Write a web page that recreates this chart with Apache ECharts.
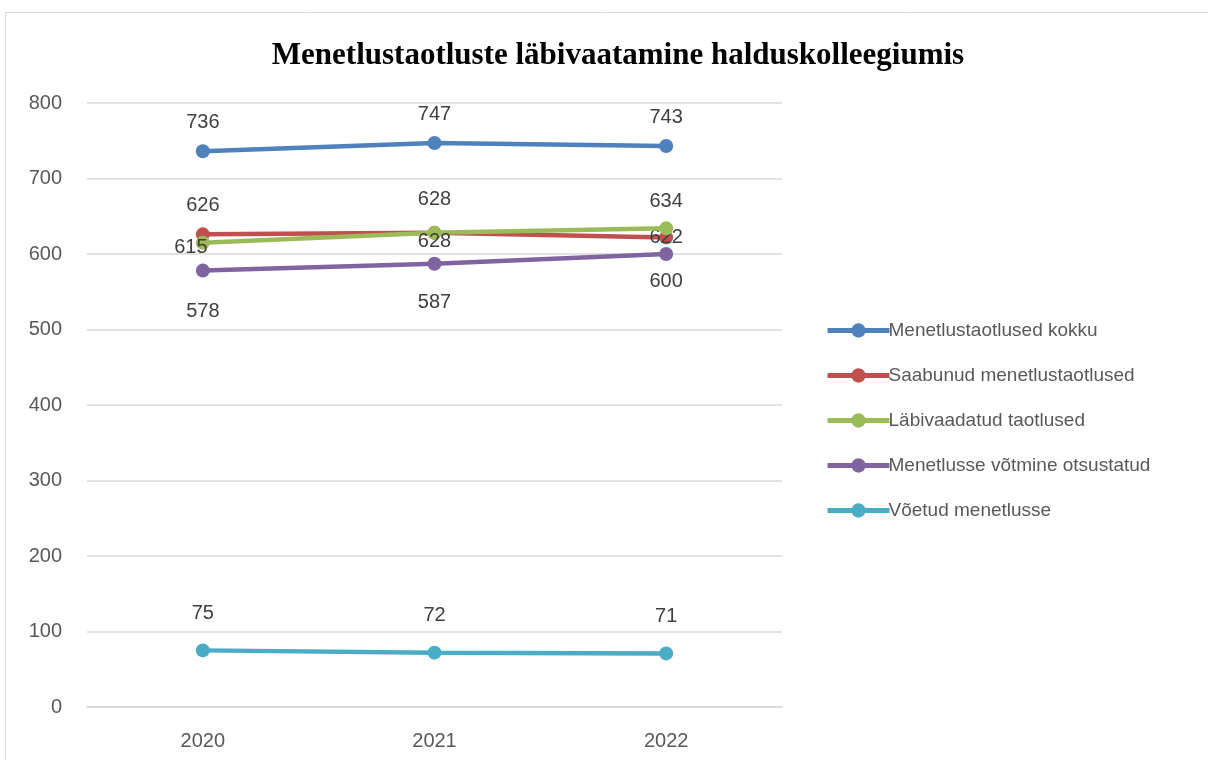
<!DOCTYPE html>
<html>
<head>
<meta charset="utf-8">
<script src="https://cdn.jsdelivr.net/npm/echarts@6/dist/echarts.min.js"></script>
<style>
  html, body { margin: 0; padding: 0; background: #fff; }
  #main { width: 1208px; height: 760px; }
</style>
</head>
<body>
<div id="main"></div>
<script>
// andmed
const years = ['2020', '2021', '2022']
const kokku = [736, 747, 743]
const saabunud = [626, 628, 622]
const labivaadatud = [615, 628, 634]
const otsustatud = [578, 587, 600]
const voetud = [75, 72, 71]

const names = [
  'Menetlustaotlused kokku',
  'Saabunud menetlustaotlused',
  'Läbivaadatud taotlused',
  'Menetlusse võtmine otsustatud',
  'Võetud menetlusse'
]
const colors = ['#4F81BD', '#C0504D', '#9BBB59', '#8064A2', '#4BACC6']

// sildi asukohad iga punkti jaoks
const labelPos = [
  [['top', 12], ['top', 12], ['top', 12]],
  [['top', 12], ['top', 16], ['inside', 0]],
  [['inside', 0], ['bottom', 0], ['top', 10]],
  [['bottom', 24], ['bottom', 22], ['bottom', 10]],
  [['top', 20], ['top', 20], ['top', 20]]
]
const zOrder = [10, 8, 9, 7, 6]

const makeSeries = (i, values) => ({
  name: names[i],
  type: 'line',
  data: values.map((v, j) => ({
    value: v,
    label: {
      position: labelPos[i][j][0],
      distance: labelPos[i][j][1],
      offset: (i === 2 && j === 0) ? [-12, 5] : (i === 2 && j === 1) ? [0, -8] : [0, 0]
    }
  })),
  symbol: 'circle',
  symbolSize: 14,
  lineStyle: { width: 4.5, color: colors[i] },
  itemStyle: { color: colors[i] },
  label: {
    show: true,
    color: '#404040',
    fontSize: 20,
    fontFamily: 'Liberation Sans'
  },
  z: zOrder[i]
})

const option = {
  animation: false,
  color: colors,
  title: {
    text: 'Menetlustaotluste läbivaatamine halduskolleegiumis',
    left: 613,
    textAlign: 'center',
    top: 35,
    textStyle: {
      fontFamily: 'Liberation Serif',
      fontWeight: 'bold',
      fontSize: 31,
      color: '#000'
    }
  },
  legend: {
    orient: 'vertical',
    left: 820,
    top: 316,
    itemGap: 26,
    itemWidth: 62,
    itemHeight: 18,
    lineStyle: { width: 5 },
    textStyle: { fontSize: 19, color: '#595959', fontFamily: 'Liberation Sans', padding: [0, 0, 0, -6] },
    data: names
  },
  graphic: [{
    type: 'rect',
    shape: { x: 5.5, y: 12.5, width: 1300, height: 900 },
    style: { fill: 'none', stroke: '#d9d9d9', lineWidth: 1 },
    silent: true
  }],
  grid: { left: 87, right: 426, top: 103, bottom: 53 },
  xAxis: {
    type: 'category',
    data: years,
    axisLine: { lineStyle: { color: '#d9d9d9', width: 1.5 } },
    axisTick: { show: false },
    axisLabel: { color: '#595959', fontSize: 20, fontFamily: 'Liberation Sans', margin: 24 }
  },
  yAxis: {
    type: 'value',
    min: 0,
    max: 800,
    interval: 100,
    axisLine: { show: false },
    axisTick: { show: false },
    splitLine: { lineStyle: { color: '#d9d9d9', width: 1.5 } },
    axisLabel: { color: '#595959', fontSize: 20, fontFamily: 'Liberation Sans', margin: 25 }
  },
  series: [
    makeSeries(0, kokku),
    makeSeries(1, saabunud),
    makeSeries(2, labivaadatud),
    makeSeries(3, otsustatud),
    makeSeries(4, voetud)
  ]
}

const chart = echarts.init(document.getElementById('main'))
chart.setOption(option)
</script>
</body>
</html>
